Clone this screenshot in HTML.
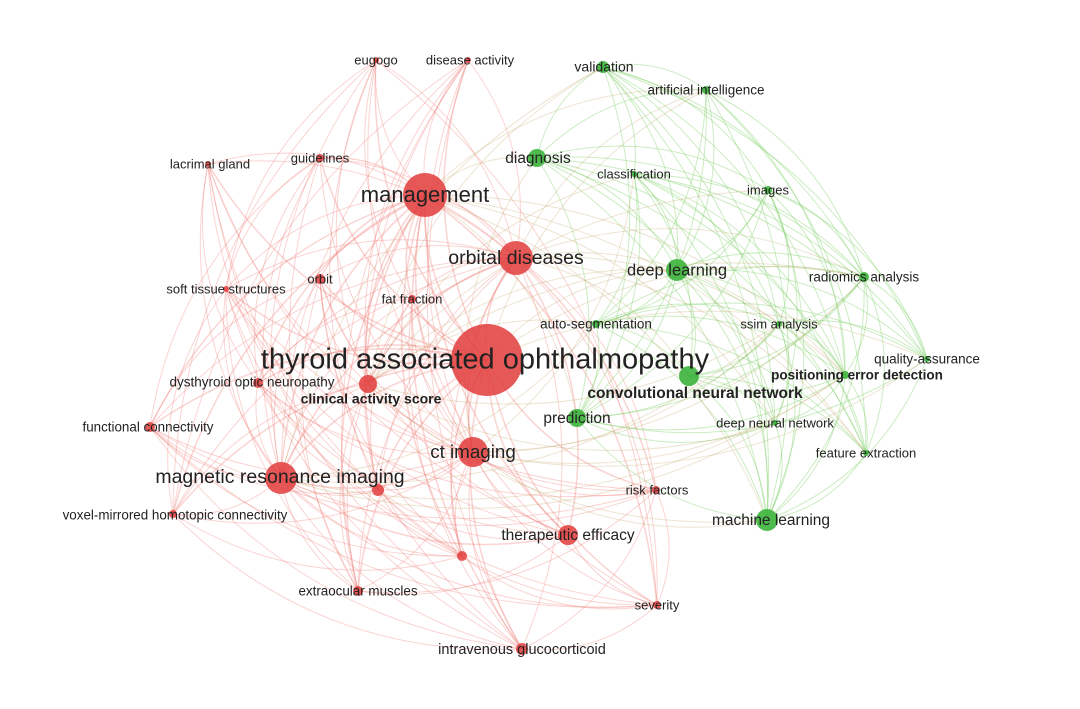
<!DOCTYPE html>
<html><head><meta charset="utf-8"><style>
html,body{margin:0;padding:0;background:#fff;}
svg{display:block;}
text{font-family:"Liberation Sans",sans-serif;fill:#222;text-anchor:middle;dominant-baseline:middle;}
</style></head><body>
<svg id="s" width="1080" height="709" viewBox="0 0 1080 709" xmlns="http://www.w3.org/2000/svg">
<g id="edges"></g>
<g id="nodes"></g>
<g id="labels" transform="translate(0,1)">
<text x="485" y="360" font-size="29">thyroid associated ophthalmopathy</text>
<text x="425" y="195" font-size="22">management</text>
<text x="516" y="258" font-size="19.5">orbital diseases</text>
<text x="473" y="452" font-size="18.8">ct imaging</text>
<text x="280" y="477" font-size="19.5">magnetic resonance imaging</text>
<text x="371" y="399" font-size="14" font-weight="bold" fill="#111">clinical activity score</text>
<text x="252" y="382" font-size="13.5" fill="#111">dysthyroid optic neuropathy</text>
<text x="568" y="535" font-size="15.5">therapeutic efficacy</text>
<text x="376" y="60" font-size="13">eugogo</text>
<text x="470" y="60" font-size="13">disease activity</text>
<text x="210" y="164" font-size="13">lacrimal gland</text>
<text x="320" y="158" font-size="13">guidelines</text>
<text x="320" y="279" font-size="13">orbit</text>
<text x="226" y="289" font-size="13">soft tissue structures</text>
<text x="412" y="299" font-size="13">fat fraction</text>
<text x="148" y="427" font-size="13.4">functional connectivity</text>
<text x="175" y="515" font-size="13.4">voxel-mirrored homotopic connectivity</text>
<text x="358" y="591" font-size="13.4">extraocular muscles</text>
<text x="522" y="649" font-size="14.5">intravenous glucocorticoid</text>
<text x="657" y="490" font-size="13">risk factors</text>
<text x="657" y="605" font-size="13">severity</text>
<text x="604" y="67" font-size="14">validation</text>
<text x="706" y="90" font-size="13.5">artificial intelligence</text>
<text x="538" y="158" font-size="15.5">diagnosis</text>
<text x="634" y="174" font-size="13">classification</text>
<text x="768" y="190" font-size="13">images</text>
<text x="677" y="270" font-size="16.5">deep learning</text>
<text x="864" y="277" font-size="13.5">radiomics analysis</text>
<text x="596" y="324" font-size="13.5">auto-segmentation</text>
<text x="779" y="324" font-size="13">ssim analysis</text>
<text x="927" y="359" font-size="13.5">quality-assurance</text>
<text x="857" y="375" font-size="13.5" font-weight="bold" fill="#111">positioning error detection</text>
<text x="695" y="393" font-size="15.5" font-weight="bold" fill="#111">convolutional neural network</text>
<text x="577" y="418" font-size="15.5">prediction</text>
<text x="775" y="423" font-size="13">deep neural network</text>
<text x="866" y="453" font-size="13">feature extraction</text>
<text x="771" y="520" font-size="15.5">machine learning</text>
</g>
</svg>
<script>
var R=[[487,360,36],[425,195,22],[516,258,17],[473,452,15],[281,478,16],[368,384,9],[258,383,5],[568,535,10],[376,60,3],[468,60,3],[208,164,3],[320,158,4],[320,279,5],[226,289,3],[412,299,4],[150,427,5],[173,514,4],[378,490,6],[462,556,5],[358,591,5],[522,649,6],[656,490,4],[657,605,4]];
var G=[[603,67,6],[706,90,4],[537,158,9],[634,174,3],[768,190,4],[677,270,11],[864,277,5],[596,324,4],[779,324,3],[927,359,3],[845,375,4],[689,376,10],[577,418,9],[775,423,3],[866,453,3],[767,520,11]];
var eg=document.getElementById('edges'),ng=document.getElementById('nodes'),ns='http://www.w3.org/2000/svg';
var seed=7;function rnd(){seed=(seed*9301+49297)%233280;return seed/233280;}
var C=[500,360];
function edge(a,b,col,w){var mx=(a[0]+b[0])/2,my=(a[1]+b[1])/2,dx=b[0]-a[0],dy=b[1]-a[1];var k=0.22;
var nx=-dy,ny=dx; if(nx*(mx-C[0])+ny*(my-C[1])<0){nx=-nx;ny=-ny;}
var cx=mx+nx*k,cy=my+ny*k;var p=document.createElementNS(ns,'path');p.setAttribute('d','M'+a[0]+' '+a[1]+' Q'+cx+' '+cy+' '+b[0]+' '+b[1]);p.setAttribute('fill','none');p.setAttribute('stroke',col);p.setAttribute('stroke-width',w);eg.appendChild(p);}
var i,j;
for(i=0;i<R.length;i++)for(j=i+1;j<R.length;j++){var s=R[i][2]+R[j][2];if(i<5||j<5||rnd()<0.35)edge(R[i],R[j],'rgba(238,120,115,0.32)',s>25?1.5:1);}
for(i=0;i<G.length;i++)for(j=i+1;j<G.length;j++){if(rnd()<0.75)edge(G[i],G[j],'rgba(130,210,110,0.42)',1);}
for(i=0;i<6;i++)for(j=0;j<G.length;j++){if(rnd()<0.35)edge(R[i],G[j],'rgba(195,165,105,0.3)',1);}
function node(n,c){var e=document.createElementNS(ns,'circle');e.setAttribute('cx',n[0]);e.setAttribute('cy',n[1]);e.setAttribute('r',n[2]);e.setAttribute('fill',c);ng.appendChild(e);}
R.forEach(function(n){node(n,'rgba(226,60,60,0.85)');});
G.forEach(function(n){node(n,'rgba(60,180,60,0.9)');});
</script>
</body></html>
